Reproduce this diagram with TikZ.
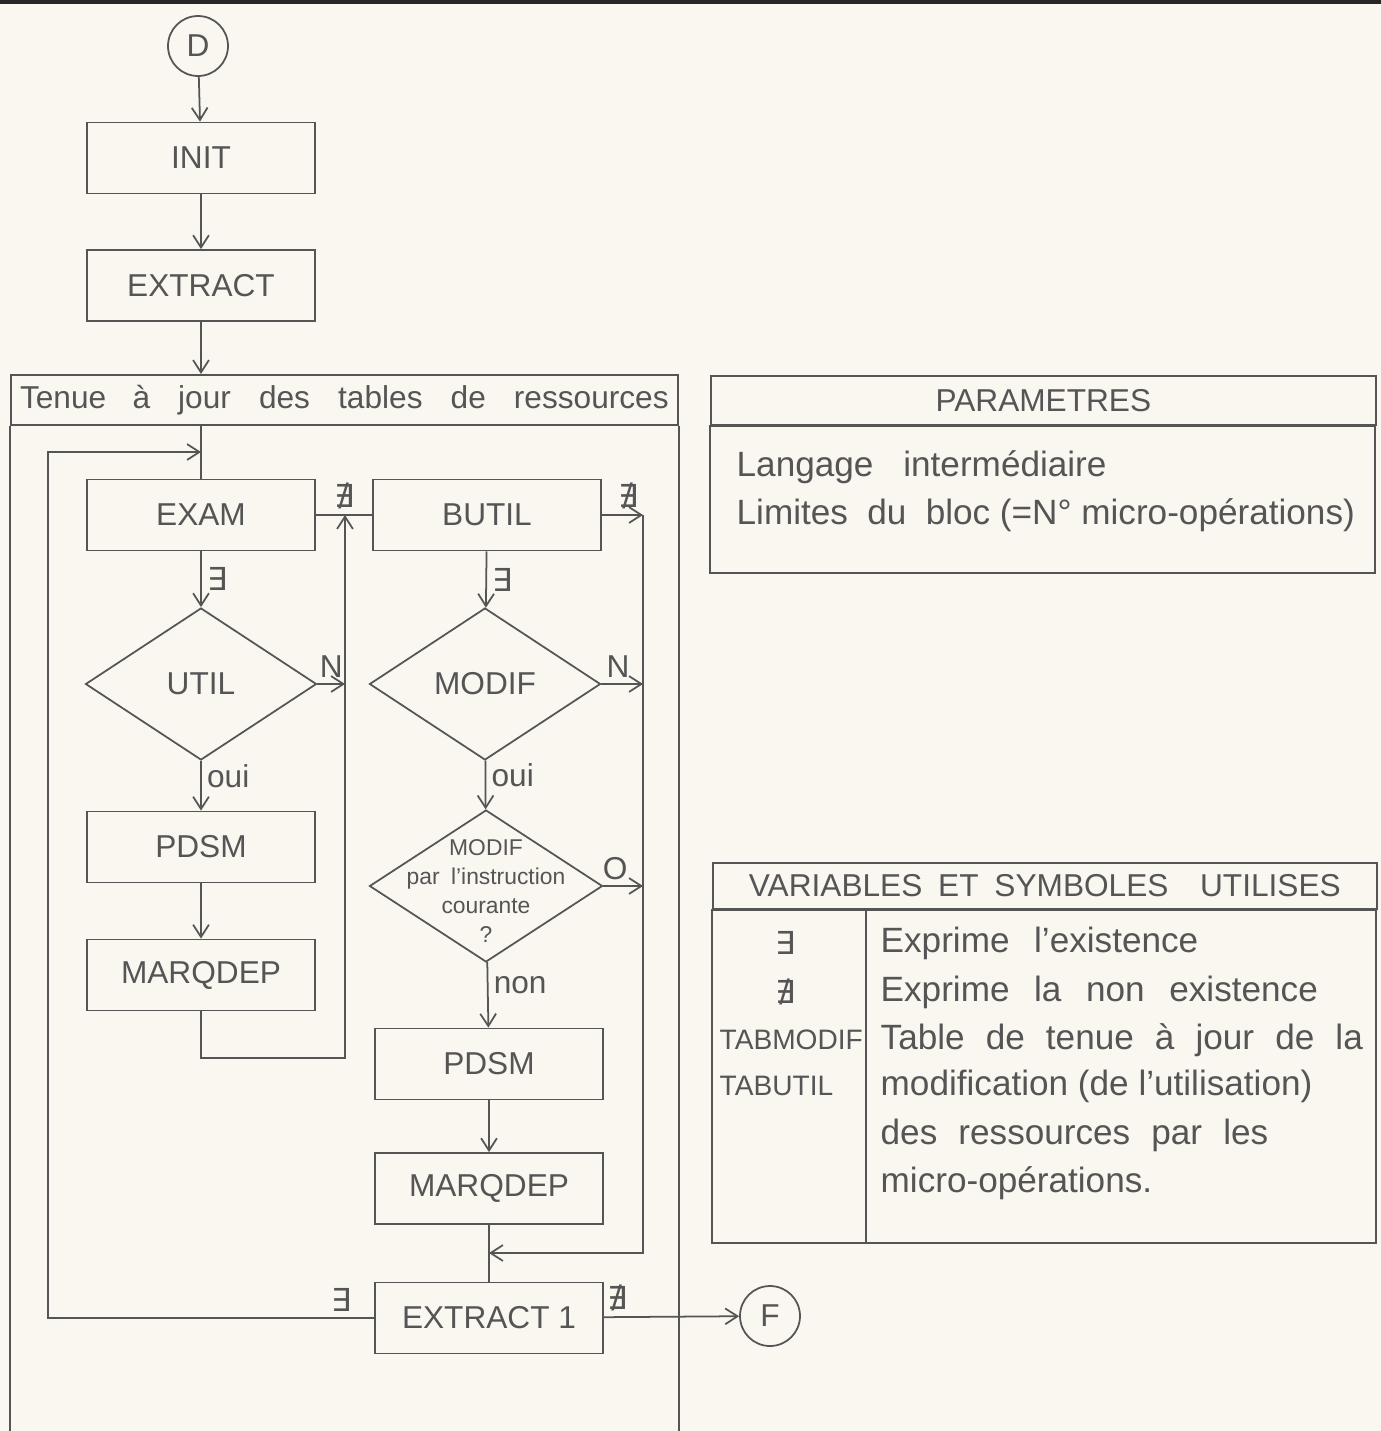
\documentclass[tikz,border=0pt]{standalone}
\usepackage{fontspec}
\setmainfont{Liberation Sans}
\newfontfamily\symfont{DejaVu Sans}
\usepackage{xcolor}
\usetikzlibrary{arrows.meta, positioning, calc, shapes.geometric}
\definecolor{paper}{RGB}{249,247,240}
\definecolor{ink}{RGB}{85,85,85}
\newcommand{\exsym}{{\symfont ∃}}
\newcommand{\nexsym}{{\symfont ∄}}
\newcommand{\gap}[1]{\hspace{#1pt}}

\begin{document}
\begin{tikzpicture}[
        x=1cm, y=-1cm,
        font=\fontsize{9}{11}\selectfont, text=ink,
        >={Straight Barb[length=3.5pt,width=4.5pt]},
        % lines and boxes of the flowchart
        line/.style ={draw=ink, line width=0.5pt},
        proc/.style ={draw=ink, line width=0.5pt, minimum width=2.28cm, minimum height=0.71cm, inner sep=0pt},
        test/.style ={diamond, draw=ink, line width=0.5pt, minimum width=2.31cm, minimum height=1.52cm, inner sep=0pt},
        term/.style ={circle, draw=ink, line width=0.5pt, minimum size=0.6cm, inner sep=0pt},
        head/.style ={draw=ink, line width=0.5pt, anchor=north west, inner sep=0pt},
        lbl/.style  ={inner sep=1.5pt},
        txt/.style  ={anchor=west, inner sep=0pt, font=\fontsize{10}{12}\selectfont}
    ]
    \fill[paper] (0,0) rectangle (13.81,14.31);
    \useasboundingbox (0,0) rectangle (13.81,14.31);
    \draw[draw=black!85, line width=1.3pt] (0,0.02) -- (13.81,0.02);

    %% ===== main chain =====
    \node[term] (D) at (1.98,0.46) {D};
    \node[proc] (init) at (2.01,1.58) {INIT};
    \node[proc] (extract) at (2.01,2.855) {EXTRACT};

    \node[head, minimum width=6.67cm, minimum height=0.50cm] (tenue) at (0.10,3.74)
        {Tenue\gap{7.5}à\gap{8}jour\gap{8}des\gap{8}tables\gap{8}de\gap{8}ressources};
    \draw[line] (tenue.south west) -- (0.10,14.31);
    \draw[line] (tenue.south east) -- (tenue.south east |- 0,14.31);

    %% left column
    \node[proc] (exam) at (2.01,5.15) {EXAM};
    \node[test] (util) at (2.01,6.84) {UTIL};
    \node[proc] (pdsmA) at (2.01,8.47) {PDSM};
    \node[proc] (marqA) at (2.01,9.75) {MARQDEP};

    %% right column
    \node[proc] (butil) at (4.87,5.15) {BUTIL};
    \node[test] (modif) at (4.85,6.84) {MODIF};
    \node[test, minimum width=2.33cm] (modq) at (4.86,8.86) {};
    \node[align=center, inner sep=0pt, font=\fontsize{6.5}{8.2}\selectfont] (modqtxt) at (4.86,8.91)
        {MODIF\\par\enspace l'instruction\\courante\\?};
    \node[proc] (pdsmB) at (4.89,10.64) {PDSM};
    \node[proc] (marqB) at (4.89,11.885) {MARQDEP};
    \node[proc] (extractB) at (4.89,13.18) {EXTRACT 1};
    \node[term] (F) at (7.70,13.16) {F};

    \coordinate (loopL) at (0.48,4.52);
    \coordinate (jA) at (3.45,5.15);
    \coordinate (jAb) at (3.45,10.58);
    \coordinate (jR) at (6.43,5.15);
    \coordinate (jRb) at (6.43,12.53);

    \draw[line,->] (D) -- (init);
    \draw[line,->] (init) -- (extract);
    \draw[line,->] (extract) -- (extract |- tenue.north);
    \draw[line] (exam |- tenue.south) -- (exam);

    \draw[line,->] (exam) -- node[lbl, right] {\exsym} (util);
    \draw[line,->] (util) -- node[lbl, right, pos=0.3] {oui} (pdsmA);
    \draw[line,->] (pdsmA) -- (marqA);
    \draw[line] (exam) -- node[lbl, above] {\nexsym} (butil);
    \draw[line,->] (util.east) -- node[lbl, above] {N} (util.east -| jA);
    \draw[line,->] (marqA) -- (marqA |- jAb) -- (jAb) -- (jA);

    \draw[line,->] (butil) -- node[lbl, right] {\exsym} (modif);
    \draw[line,->] (modif) -- node[lbl, right, pos=0.3] {oui} (modq);
    \draw[line,->] (modq) -- node[lbl, right, pos=0.35] {non} (pdsmB);
    \draw[line,->] (pdsmB) -- (marqB);
    \draw[line] (marqB) -- (extractB);
    \draw[line,->] (butil) -- node[lbl, above, pos=0.65] {\nexsym} (butil -| jR);
    \draw[line,->] (modif.east) -- node[lbl, above, pos=0.4] {N} (modif.east -| jR);
    \draw[line,->] (modq.east) -- node[lbl, above, pos=0.3] {O} (modq.east -| jR);
    \draw[line,->] (jR) -- (jRb) -- (jRb -| marqB);

    \draw[line,->] (extractB) -- node[lbl, above, pos=0.1] {\nexsym} (F);
    \draw[line,->] (extractB) -- node[lbl, above, pos=0.1] {\exsym} (extractB -| loopL) -- (loopL) -- (loopL -| exam);

    %% ===== PARAMETRES =====
    \node[head, minimum width=6.65cm, minimum height=0.49cm] (param) at (7.10,3.75) {PARAMETRES};
    \draw[line] (param.south west) rectangle (13.75,5.73);
    \node[txt] (parA) at (7.36,4.67) {Langage\gap{8.5}intermédiaire};
    \node[txt] (parB) at (7.36,5.15) {Limites\gap{5.5}du\gap{5.5}bloc (=N° micro-opérations)};

    %% ===== VARIABLES ET SYMBOLES =====
    \node[head, minimum width=6.64cm, minimum height=0.46cm] (vars) at (7.12,8.62)
        {VARIABLES\enspace ET\enspace SYMBOLES\quad UTILISES};
    \draw[line] (vars.south west) rectangle (13.76,12.43);
    \draw[line] (8.66,9.08) -- (8.66,12.43);
    \node (symA) at (7.85,9.43) {\exsym};
    \node (symB) at (7.85,9.92) {\nexsym};
    \node[txt, font=\fontsize{8}{10}\selectfont] (tabM) at (7.19,10.40) {TABMODIF};
    \node[txt, font=\fontsize{8}{10}\selectfont] (tabU) at (7.19,10.86) {TABUTIL};
    \node[txt] (defA) at (8.80,9.43) {Exprime\gap{7}l'existence};
    \node[txt] (defB) at (8.80,9.92) {Exprime\gap{7}la\gap{7}non\gap{7}existence};
    \node[txt] (defC) at (8.80,10.40) {Table\gap{6}de\gap{6}tenue\gap{6}à\gap{6}jour\gap{6}de\gap{6}la};
    \node[txt] (defD) at (8.80,10.86) {modification (de l'utilisation)};
    \node[txt] (defE) at (8.80,11.35) {des\gap{6}ressources\gap{6}par\gap{6}les};
    \node[txt] (defF) at (8.80,11.83) {micro-opérations.};
\end{tikzpicture}
\end{document}
